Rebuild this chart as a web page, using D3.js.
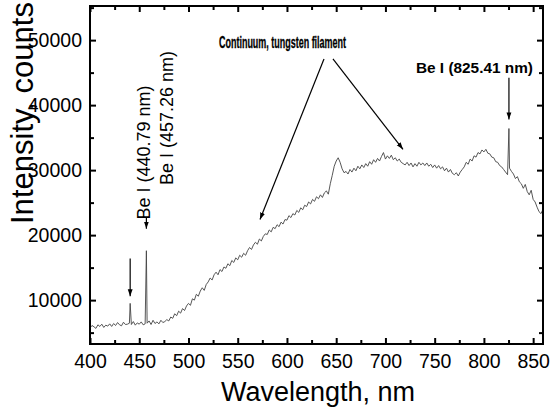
<!DOCTYPE html>
<html>
<head>
<meta charset="utf-8">
<script src="https://cdn.jsdelivr.net/npm/d3@7"></script>
<style>
  body { margin: 0; background: #fff; }
  svg { display: block; font-family: "Liberation Sans", Arial, sans-serif; }
</style>
</head>
<body>
<main></main>
<script>
// spectrum, sampled every 2 nm from 400 nm
var startNm = 400, stepNm = 2
var counts = [
    5700, 6100, 5900, 5650, 6200, 5950, 6300, 5800, 6150, 6000,
    6350, 5950, 6400, 6100, 6550, 6200, 6050, 6600, 6250, 6300,
    6450, 6250, 6700, 6150, 6500, 6300, 6650, 6200, 6350, 6450,
    6800, 6250, 6900, 6400, 6650, 6350, 6900, 6550, 6700, 7000,
    6800, 7400, 7200, 7900, 7600, 8300, 8000, 8700, 8400, 9100,
    9500, 9200, 10200, 10000, 10900, 10600, 11400, 11900, 11500, 12400,
    12800, 13400, 13100, 13900, 14300, 13900, 14700, 14400, 15100, 14900,
    15600, 15300, 16100, 15800, 16500, 16200, 16900, 16600, 17200, 16900,
    17600, 18100, 17800, 18500, 18900, 18600, 19400, 19100, 19800, 20200,
    20100, 20800, 20500, 21200, 21000, 21600, 21300, 22000, 21700, 22400,
    22300, 23000, 22700, 23300, 23100, 23800, 23500, 24200, 23900, 24600,
    24400, 25100, 24800, 25500, 25200, 25900, 25600, 26200, 25800, 26500,
    26800, 26300, 27900, 29200, 30600, 31400, 31900, 31200, 30200, 29600,
    29800, 29400, 30100, 29700, 30300, 29900, 30600, 30200, 30800, 30400,
    31000, 30600, 31300, 30900, 31600, 31200, 31800, 31400, 32100, 32700,
    31700, 32200, 31800, 32300, 31600, 31900, 31400, 31700, 31200, 31000,
    30800, 31200, 30700, 31100, 30500, 31000, 30600, 31200, 30800, 31100,
    30700, 31100, 30600, 30900, 30400, 30800, 30300, 30700, 30200, 30500,
    29900, 30300, 29700, 30100, 29500, 29300, 29600, 29100, 29700, 30100,
    30500, 31200, 30900, 31700, 31400, 32200, 32000, 32700, 32500, 33100,
    32800, 33200, 32600, 32500, 32000, 31900, 31300, 31200, 30700, 30500,
    30100, 29700, 29300, 30300, 29800, 29400, 28700, 29000, 28200, 27900,
    27200, 27800, 26700, 26200, 26900, 25500, 25100, 24300, 23600, 23300,
    24000
]

// Be I emission lines
var lineNm = [440.79, 457.26, 825.41]
var lineCounts = [9500, 17600, 36400]

// ticks
var xMajor = [400, 450, 500, 550, 600, 650, 700, 750, 800, 850]
var xMinor = [425, 475, 525, 575, 625, 675, 725, 775, 825]
var yMajor = [10000, 20000, 30000, 40000, 50000]
var yMinor = [5000, 15000, 25000, 35000, 45000, 55000]

// annotations (data units)
var arrows = [
    [440.79, 16400, 440.79, 10600],
    [457.26, 22800, 457.26, 21000],
    [637.6, 47100, 572.6, 22400],
    [646.7, 47100, 717.8, 33200],
    [825.41, 44200, 825.41, 37800]
]

var W = 553, H = 413

var x = d3.scaleLinear().domain([400, 860]).range([90, 543])
var y = d3.scaleLinear().domain([3250, 55250]).range([344, 6])

var svg = d3.select('main').append('svg')
    .attr('width', W)
    .attr('height', H)

svg.append('defs').append('marker')
    .attr('id', 'head')
    .attr('viewBox', '0 0 10 10')
    .attr('refX', 10)
    .attr('refY', 5)
    .attr('markerWidth', 7)
    .attr('markerHeight', 7)
    .attr('markerUnits', 'userSpaceOnUse')
    .attr('orient', 'auto')
    .append('path')
    .attr('d', 'M0,1.5L10,5L0,8.5Z')
    .attr('fill', '#000')

// build spectrum table
var spectrum = counts.map((c, i) => ({ nm: startNm + i * stepNm, v: c }))
lineNm.forEach((nm, i) => spectrum.push({ nm: nm, v: lineCounts[i] }))
spectrum.sort((a, b) => a.nm - b.nm)

var valueline = d3.line()
    .x(d => x(d.nm))
    .y(d => y(d.v))

svg.append('path')
    .datum(spectrum)
    .attr('d', valueline)
    .attr('fill', 'none')
    .attr('stroke', '#444')
    .attr('stroke-width', 0.9)
    .attr('stroke-linejoin', 'round')

// axes, ticks inward on all four sides
function styleAxis(g) {
    g.select('.domain').remove()
    g.selectAll('.tick line').attr('stroke', '#000').attr('stroke-width', 2)
    g.selectAll('text').attr('font-size', 19.5).attr('fill', '#000')
        .attr('font-family', '"Liberation Sans", Arial, sans-serif')
}

svg.append('g')
    .attr('transform', 'translate(0,344)')
    .call(d3.axisBottom(x).tickValues(xMajor).tickSize(-6).tickPadding(10).tickFormat(d3.format('d')))
    .call(styleAxis)
svg.append('g')
    .attr('transform', 'translate(0,344)')
    .call(d3.axisBottom(x).tickValues(xMinor).tickSize(-4).tickFormat(''))
    .call(styleAxis)
svg.append('g')
    .attr('transform', 'translate(0,6)')
    .call(d3.axisTop(x).tickValues(xMajor).tickSize(-6).tickFormat(''))
    .call(styleAxis)
svg.append('g')
    .attr('transform', 'translate(0,6)')
    .call(d3.axisTop(x).tickValues(xMinor).tickSize(-4).tickFormat(''))
    .call(styleAxis)

svg.append('g')
    .attr('transform', 'translate(90,0)')
    .call(d3.axisLeft(y).tickValues(yMajor).tickSize(-6).tickPadding(8).tickFormat(d3.format('d')))
    .call(styleAxis)
svg.append('g')
    .attr('transform', 'translate(90,0)')
    .call(d3.axisLeft(y).tickValues(yMinor).tickSize(-4).tickFormat(''))
    .call(styleAxis)
svg.append('g')
    .attr('transform', 'translate(543,0)')
    .call(d3.axisRight(y).tickValues(yMajor).tickSize(-6).tickFormat(''))
    .call(styleAxis)
svg.append('g')
    .attr('transform', 'translate(543,0)')
    .call(d3.axisRight(y).tickValues(yMinor).tickSize(-4).tickFormat(''))
    .call(styleAxis)

// frame
svg.append('rect')
    .attr('x', x(400))
    .attr('y', y(55250))
    .attr('width', x(860) - x(400))
    .attr('height', y(3250) - y(55250))
    .attr('fill', 'none')
    .attr('stroke', '#000')
    .attr('stroke-width', 2)

// axis titles
svg.append('text')
    .attr('x', 318)
    .attr('y', 401)
    .attr('text-anchor', 'middle')
    .attr('font-size', 27)
    .text('Wavelength, nm')

svg.append('text')
    .attr('transform', 'translate(33,224) rotate(-90)')
    .attr('font-size', 31)
    .attr('textLength', 222)
    .attr('lengthAdjust', 'spacingAndGlyphs')
    .text('Intensity, counts')

// annotations
svg.append('g')
    .selectAll('line')
    .data(arrows)
    .enter()
    .append('line')
    .attr('x1', d => x(d[0]))
    .attr('y1', d => y(d[1]))
    .attr('x2', d => x(d[2]))
    .attr('y2', d => y(d[3]))
    .attr('stroke', '#000')
    .attr('stroke-width', 1.2)
    .attr('marker-end', 'url(#head)')

svg.append('text')
    .attr('x', x(531))
    .attr('y', y(48780))
    .attr('font-size', 16)
    .attr('font-weight', 'bold')
    .attr('stroke', '#000')
    .attr('stroke-width', 0.3)
    .attr('textLength', 127)
    .attr('lengthAdjust', 'spacingAndGlyphs')
    .text('Continuum, tungsten filament')

svg.append('text')
    .attr('x', x(731))
    .attr('y', y(44960))
    .attr('font-size', 15.5)
    .attr('font-weight', 'bold')
    .attr('textLength', 117)
    .attr('lengthAdjust', 'spacingAndGlyphs')
    .text('Be I (825.41 nm)')

svg.append('text')
    .attr('transform', `translate(${x(460.9)},${y(22400)}) rotate(-90)`)
    .attr('font-size', 18)
    .text('Be I (440.79 nm)')

svg.append('text')
    .attr('transform', `translate(${x(484.3)},${y(27700)}) rotate(-90)`)
    .attr('font-size', 18)
    .text('Be I (457.26 nm)')
</script>
</body>
</html>
